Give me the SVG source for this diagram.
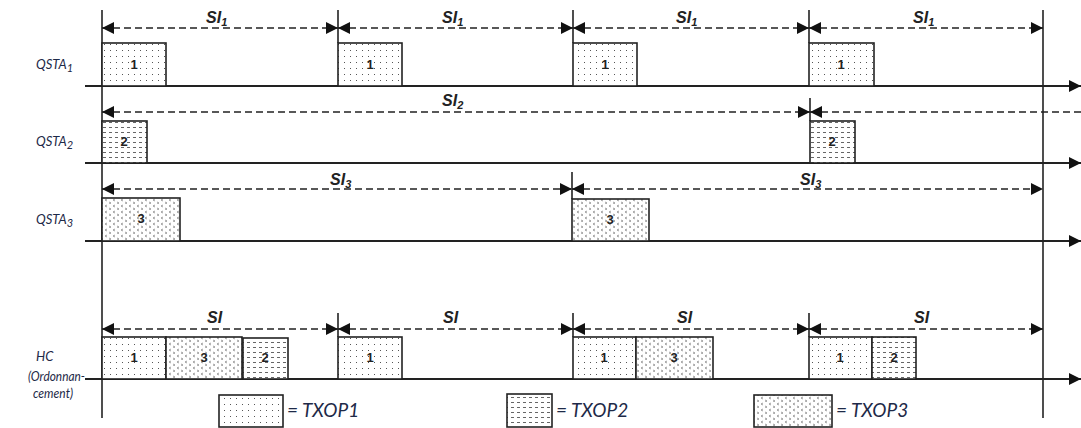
<svg xmlns="http://www.w3.org/2000/svg" width="1081" height="428" viewBox="0 0 1081 428">
<style>
.lbl{font-family:Lato,"Liberation Sans",sans-serif;font-style:italic;font-size:13px;fill:#1e2a48}
.si{font-family:"Liberation Sans",sans-serif;font-style:italic;font-weight:bold;font-size:16px;fill:#222}
.sub{font-size:11px}
.num{font-family:"Liberation Sans",sans-serif;font-weight:bold;font-size:13px;fill:#222;text-anchor:middle}
.leg{font-family:Lato,"Liberation Sans",sans-serif;font-style:italic;font-size:19px;fill:#1e2a48}
.axis{stroke:#222;stroke-width:2;fill:none}
.vline{stroke:#222;stroke-width:1.6;fill:none}
.dash{stroke:#222;stroke-width:1.6;stroke-dasharray:7 4;fill:none}
.box{stroke:#222;stroke-width:1.6}
.t1{fill:url(#p1)}
.t2{fill:url(#p2)}
.t3{fill:url(#p3)}
</style>
<defs>
<marker id="ah" markerUnits="userSpaceOnUse" markerWidth="13" markerHeight="12" refX="12" refY="6" orient="auto-start-reverse">
<path d="M0,0 L12,6 L0,12 Z" fill="#111"/>
</marker>
<pattern id="p1" patternUnits="userSpaceOnUse" width="6" height="6">
<rect width="6" height="6" fill="#fff"/>
<rect x="2" y="2" width="1" height="1" fill="#555"/>
</pattern>
<pattern id="p2" patternUnits="userSpaceOnUse" width="6" height="5">
<rect width="6" height="5" fill="#fff"/>
<rect x="1" y="2" width="3" height="1" fill="#666"/>
</pattern>
<pattern id="p3" patternUnits="userSpaceOnUse" width="8" height="6">
<rect width="8" height="6" fill="#fff"/>
<path d="M3,1 L1,2 L3,3 M5,4 L7,5 L5,6" stroke="#777" stroke-width="0.7" fill="none"/>
</pattern>
</defs>

<g id="frame">
<line class="vline" x1="102" y1="10" x2="102" y2="418"/>
<line class="vline" x1="1043" y1="10" x2="1043" y2="418"/>
</g>

<g id="labels">
<text class="lbl" x="36" y="69">QSTA<tspan class="sub" dy="3">1</tspan></text>
<text class="lbl" x="36" y="146">QSTA<tspan class="sub" dy="3">2</tspan></text>
<text class="lbl" x="36" y="224">QSTA<tspan class="sub" dy="3">3</tspan></text>
<text class="lbl" x="36" y="361">HC</text>
<text class="lbl" x="28" y="381" textLength="57" lengthAdjust="spacingAndGlyphs">(Ordonnan-</text>
<text class="lbl" x="33" y="398" textLength="40" lengthAdjust="spacingAndGlyphs">cement)</text>
</g>

<g id="connectors">
<path class="axis" d="M85,86 H1081" marker-end="url(#ah)"/>
<path class="axis" d="M85,163 H1081" marker-end="url(#ah)"/>
<path class="axis" d="M85,241 H1081" marker-end="url(#ah)"/>
<path class="axis" d="M85,379 H1081" marker-end="url(#ah)"/>
<line class="vline" x1="338" y1="10" x2="338" y2="43"/>
<line class="vline" x1="573" y1="10" x2="573" y2="43"/>
<line class="vline" x1="809" y1="10" x2="809" y2="43"/>
<line class="vline" x1="810" y1="98" x2="810" y2="121"/>
<line class="vline" x1="572" y1="172" x2="572" y2="199"/>
<line class="vline" x1="338" y1="313" x2="338" y2="337"/>
<line class="vline" x1="573" y1="313" x2="573" y2="337"/>
<line class="vline" x1="809" y1="313" x2="809" y2="337"/>
<path class="dash" d="M102,28 H338" marker-start="url(#ah)" marker-end="url(#ah)"/>
<path class="dash" d="M338,28 H573" marker-start="url(#ah)" marker-end="url(#ah)"/>
<path class="dash" d="M573,28 H809" marker-start="url(#ah)" marker-end="url(#ah)"/>
<path class="dash" d="M809,28 H1043" marker-start="url(#ah)" marker-end="url(#ah)"/>
<path class="dash" d="M102,112 H810" marker-start="url(#ah)" marker-end="url(#ah)"/>
<path class="dash" d="M810,112 H1081" marker-start="url(#ah)"/>
<path class="dash" d="M102,189 H572" marker-start="url(#ah)" marker-end="url(#ah)"/>
<path class="dash" d="M572,189 H1043" marker-start="url(#ah)" marker-end="url(#ah)"/>
<path class="dash" d="M102,329 H338" marker-start="url(#ah)" marker-end="url(#ah)"/>
<path class="dash" d="M338,329 H573" marker-start="url(#ah)" marker-end="url(#ah)"/>
<path class="dash" d="M573,329 H809" marker-start="url(#ah)" marker-end="url(#ah)"/>
<path class="dash" d="M809,329 H1043" marker-start="url(#ah)" marker-end="url(#ah)"/>
</g>

<g id="si-labels">
<text class="si" x="206" y="23">SI<tspan class="sub" dy="3">1</tspan></text>
<text class="si" x="442" y="23">SI<tspan class="sub" dy="3">1</tspan></text>
<text class="si" x="676" y="23">SI<tspan class="sub" dy="3">1</tspan></text>
<text class="si" x="913" y="23">SI<tspan class="sub" dy="3">1</tspan></text>
<text class="si" x="442" y="106">SI<tspan class="sub" dy="3">2</tspan></text>
<text class="si" x="330" y="185">SI<tspan class="sub" dy="3">3</tspan></text>
<text class="si" x="800" y="185">SI<tspan class="sub" dy="3">3</tspan></text>
<text class="si" x="207" y="323">SI</text>
<text class="si" x="443" y="323">SI</text>
<text class="si" x="677" y="323">SI</text>
<text class="si" x="914" y="323">SI</text>
</g>

<g id="qsta1">
<rect class="box t1" x="102" y="43" width="64" height="43"/><text class="num" x="134" y="69">1</text>
<rect class="box t1" x="338" y="43" width="64" height="43"/><text class="num" x="370" y="69">1</text>
<rect class="box t1" x="573" y="43" width="64" height="43"/><text class="num" x="605" y="69">1</text>
<rect class="box t1" x="809" y="43" width="65" height="43"/><text class="num" x="841" y="69">1</text>
</g>

<g id="qsta2">
<rect class="box t2" x="102" y="121" width="45" height="42"/><text class="num" x="124" y="146">2</text>
<rect class="box t2" x="810" y="121" width="45" height="42"/><text class="num" x="832" y="146">2</text>
</g>

<g id="qsta3">
<rect class="box t3" x="102" y="198" width="78" height="43"/><text class="num" x="141" y="223">3</text>
<rect class="box t3" x="572" y="199" width="77" height="42"/><text class="num" x="610" y="224">3</text>
</g>

<g id="hc">
<rect class="box t1" x="102" y="337" width="64" height="42"/><text class="num" x="134" y="362">1</text>
<rect class="box t3" x="166" y="337" width="76" height="42"/><text class="num" x="204" y="362">3</text>
<rect class="box t2" x="243" y="338" width="45" height="41"/><text class="num" x="265" y="362">2</text>
<rect class="box t1" x="338" y="337" width="64" height="42"/><text class="num" x="370" y="362">1</text>
<rect class="box t1" x="573" y="337" width="63" height="42"/><text class="num" x="604" y="362">1</text>
<rect class="box t3" x="636" y="337" width="77" height="42"/><text class="num" x="674" y="362">3</text>
<rect class="box t1" x="809" y="337" width="63" height="42"/><text class="num" x="840" y="362">1</text>
<rect class="box t2" x="872" y="337" width="44" height="42"/><text class="num" x="894" y="362">2</text>
</g>

<g id="legend">
<rect class="box t1" x="219" y="395" width="64" height="32"/>
<text class="leg" x="287" y="417">= TXOP1</text>
<rect class="box t2" x="507" y="394" width="45" height="33"/>
<text class="leg" x="556" y="417">= TXOP2</text>
<rect class="box t3" x="754" y="395" width="78" height="32"/>
<text class="leg" x="836" y="417">= TXOP3</text>
</g>
</svg>
